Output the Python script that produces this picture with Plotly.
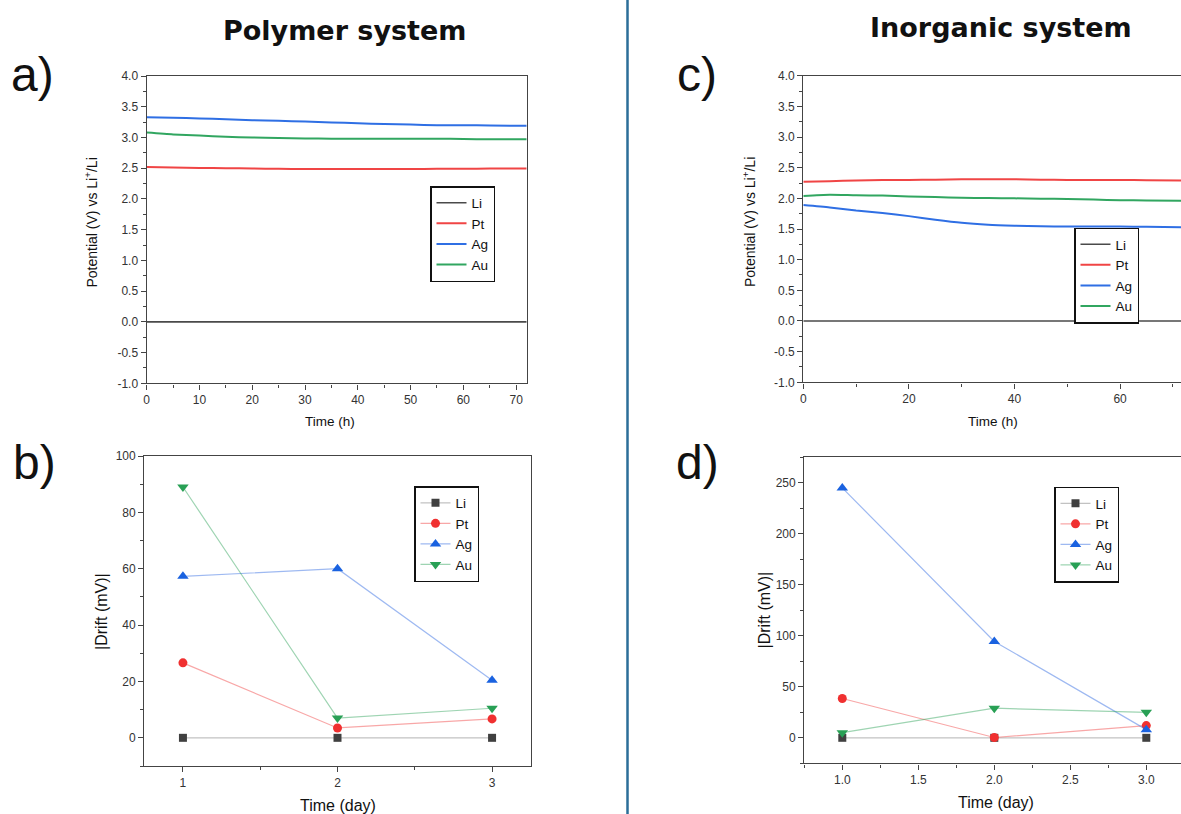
import plotly.graph_objects as go

W, H = 1181, 814

# ---- data -------------------------------------------------------------
metals = ["Li", "Pt", "Ag", "Au"]

time_h = [0, 5, 10, 15, 20, 25, 30, 35, 40, 45, 50, 55, 60, 65, 72]

poly_li = [0.0] * len(time_h)
poly_pt = [2.52, 2.51, 2.505, 2.50, 2.495, 2.49, 2.485, 2.485, 2.485, 2.485, 2.485, 2.49, 2.49, 2.495, 2.495]
poly_ag = [3.33, 3.32, 3.31, 3.295, 3.28, 3.27, 3.26, 3.245, 3.23, 3.22, 3.21, 3.20, 3.20, 3.195, 3.19]
poly_au = [3.08, 3.05, 3.03, 3.01, 3.00, 2.99, 2.985, 2.98, 2.98, 2.98, 2.98, 2.98, 2.975, 2.97, 2.97]

inorg_li = [0.0] * len(time_h)
inorg_pt = [2.27, 2.28, 2.29, 2.30, 2.30, 2.305, 2.31, 2.31, 2.31, 2.305, 2.30, 2.30, 2.30, 2.295, 2.29]
inorg_ag = [1.89, 1.85, 1.80, 1.76, 1.71, 1.65, 1.60, 1.57, 1.555, 1.545, 1.54, 1.54, 1.54, 1.535, 1.53]
inorg_au = [2.04, 2.06, 2.05, 2.045, 2.03, 2.02, 2.01, 2.005, 2.00, 1.995, 1.99, 1.98, 1.97, 1.965, 1.96]

potential_ticks = [-1.0, -0.5, 0.0, 0.5, 1.0, 1.5, 2.0, 2.5, 3.0, 3.5, 4.0]

days = [1, 2, 3]
drift_poly_li = [0, 0, 0]
drift_poly_pt = [26.6, 3.5, 6.7]
drift_poly_ag = [57.3, 60.0, 20.4]
drift_poly_au = [89.0, 7.0, 10.5]

drift_inorg_li = [0, 0, 0]
drift_inorg_pt = [38.5, 0.3, 12.0]
drift_inorg_ag = [245.0, 94.5, 8.0]
drift_inorg_au = [5.0, 29.0, 25.0]

# ---- styling -----------------------------------------------------------
line_col = {"Li": "#4a4a4a", "Pt": "#f04545", "Ag": "#2f6fe4", "Au": "#31a660"}
marker_col = {"Li": "#404040", "Pt": "#f03030", "Ag": "#1a62e0", "Au": "#28a055"}
thin_col = {"Li": "rgba(120,120,120,0.45)", "Pt": "rgba(240,60,60,0.45)",
            "Ag": "rgba(40,100,225,0.45)", "Au": "rgba(40,160,85,0.45)"}
symbols = {"Li": "square", "Pt": "circle", "Ag": "triangle-up", "Au": "triangle-down"}
msize = {"Li": 8, "Pt": 9, "Ag": 10, "Au": 10}

FONT = "Liberation Sans, Arial, sans-serif"
HEAD_FONT = "DejaVu Sans, sans-serif"
AX = "#444444"


def px_x(p):
    return p / W


def px_y(p):
    return 1 - p / H


fig = go.Figure()

potential_sets = [
    ("x", "y", "legend", [poly_li, poly_pt, poly_ag, poly_au]),
    ("x2", "y2", "legend2", [inorg_li, inorg_pt, inorg_ag, inorg_au]),
]
for xa, ya, lg, series in potential_sets:
    for name, vals in zip(metals, series):
        fig.add_trace(go.Scatter(
            x=time_h, y=vals, name=name, mode="lines", xaxis=xa, yaxis=ya,
            legend=lg, line=dict(color=line_col[name], width=1.6 if name == "Li" else 2,
                                 shape="spline", smoothing=0.6),
        ))

drift_sets = [
    ("x3", "y3", "legend3", [drift_poly_li, drift_poly_pt, drift_poly_ag, drift_poly_au]),
    ("x4", "y4", "legend4", [drift_inorg_li, drift_inorg_pt, drift_inorg_ag, drift_inorg_au]),
]
for xa, ya, lg, series in drift_sets:
    for name, vals in zip(metals, series):
        fig.add_trace(go.Scatter(
            x=days, y=vals, name=name, mode="lines+markers", xaxis=xa, yaxis=ya,
            legend=lg, cliponaxis=False,
            line=dict(color=thin_col[name], width=1.2),
            marker=dict(symbol=symbols[name], size=msize[name], color=marker_col[name]),
        ))


def axis(domain, rng, dtick, minor, fsize, mirror=True, tickformat=None, labels=None):
    d = dict(
        domain=domain, range=rng, dtick=dtick, tick0=0, showgrid=False, zeroline=False,
        showline=True, linecolor=AX, linewidth=1.4, mirror=mirror,
        ticks="outside", ticklen=5, tickwidth=1.2, tickcolor=AX,
        tickfont=dict(family=FONT, size=fsize, color="#333333"),
        minor=dict(dtick=minor, ticks="outside", ticklen=3, tickwidth=1.1, tickcolor=AX, showgrid=False),
        automargin=False, fixedrange=True,
    )
    if tickformat:
        d["tickformat"] = tickformat
    if labels is not None:
        d["tickmode"] = "array"
        d["tickvals"] = labels
        d["ticktext"] = [f"{v:.1f}" for v in labels]  # plain hyphen for negatives
    return d


# panel geometry in pixels
a_box = (146.7, 526.7, 76.0, 383.3)
c_box = (803.3, 1181.0, 75.7, 382.3)
b_box = (144.3, 530.7, 456.0, 766.0)
d_box = (804.3, 1181.0, 457.3, 763.3)


def dom(box):
    x0, x1, y0, y1 = box
    return [px_x(x0), min(px_x(x1), 1.0)], [px_y(y1), px_y(y0)]


ax_dom, ay_dom = dom(a_box)
cx_dom, cy_dom = dom(c_box)
bx_dom, by_dom = dom(b_box)
dx_dom, dy_dom = dom(d_box)

c_xmax = (c_box[1] - c_box[0]) / 5.28
d_xmax = 0.75 + (d_box[1] - d_box[0]) / 152.0

fig.update_layout(
    xaxis=dict(axis(ax_dom, [0, 72], 10, 5, 12), anchor="y"),
    yaxis=dict(axis(ay_dom, [-1, 4], 0.5, 0.25, 12, labels=potential_ticks), anchor="x"),
    xaxis2=dict(axis(cx_dom, [0, c_xmax], 20, 10, 12), anchor="y2"),
    yaxis2=dict(axis(cy_dom, [-1, 4], 0.5, 0.25, 12, mirror=False, labels=potential_ticks), anchor="x2"),
    xaxis3=dict(axis(bx_dom, [0.75, 3.25], 1, 0.5, 12), anchor="y3"),
    yaxis3=dict(axis(by_dom, [-10, 100], 20, 10, 12), anchor="x3"),
    xaxis4=dict(axis(dx_dom, [0.75, d_xmax], 0.5, 0.25, 12, tickformat=".1f"), anchor="y4"),
    yaxis4=dict(axis(dy_dom, [-25, 275], 50, 25, 12, mirror=False), anchor="x4"),
)


def legend_at(xp, yp):
    return dict(
        x=px_x(xp), y=px_y(yp), xanchor="left", yanchor="top",
        bgcolor="white", bordercolor="#111111", borderwidth=1.5,
        font=dict(family=FONT, size=13.5, color="#111111"),
        tracegroupgap=0, itemwidth=30,
    )


fig.update_layout(
    legend=legend_at(430, 186),
    legend2=legend_at(1074, 227.5),
    legend3=legend_at(414, 486),
    legend4=legend_at(1054, 486.5),
)

ann = []


def text(x, y, s, size, bold=False, angle=0, family=FONT):
    ann.append(dict(
        x=px_x(x), y=px_y(y), xref="paper", yref="paper", text=f"<b>{s}</b>" if bold else s,
        showarrow=False, xanchor="center", yanchor="middle", textangle=angle,
        font=dict(family=family, size=size, color="#111111"),
    ))


# headings and panel letters
text(345, 30, "Polymer system", 27, bold=True, family=HEAD_FONT)
text(1001, 28, "Inorganic system", 27, bold=True, family=HEAD_FONT)
for letter, (lx, ly) in {"a)": (32, 74), "b)": (34, 462), "c)": (697, 74), "d)": (697, 462)}.items():
    text(lx, ly, letter, 48)

# axis titles
pot_title = "Potential (V) vs Li<sup>+</sup>/Li"
text(91.5, 223, pot_title, 14, angle=-90)
text(330, 421, "Time (h)", 13.5)
text(749, 222, pot_title, 14, angle=-90)
text(993, 421, "Time (h)", 13.5)
text(101, 612, "|Drift (mV)|", 16, angle=-90)
text(337.5, 805, "Time (day)", 16)
text(763.5, 610, "|Drift (mV)|", 16, angle=-90)
text(995.5, 802, "Time (day)", 16)

fig.update_layout(
    annotations=ann,
    shapes=[dict(type="line", xref="paper", yref="paper",
                 x0=px_x(627.5), x1=px_x(627.5), y0=0, y1=1,
                 line=dict(color="#2b6e99", width=2.5))],
    width=W, height=H,
    margin=dict(l=0, r=0, t=0, b=0, autoexpand=False),
    paper_bgcolor="white", plot_bgcolor="white",
    font=dict(family=FONT, color="#333333"),
)

fig.write_html("out.html", config={"displayModeBar": False})
